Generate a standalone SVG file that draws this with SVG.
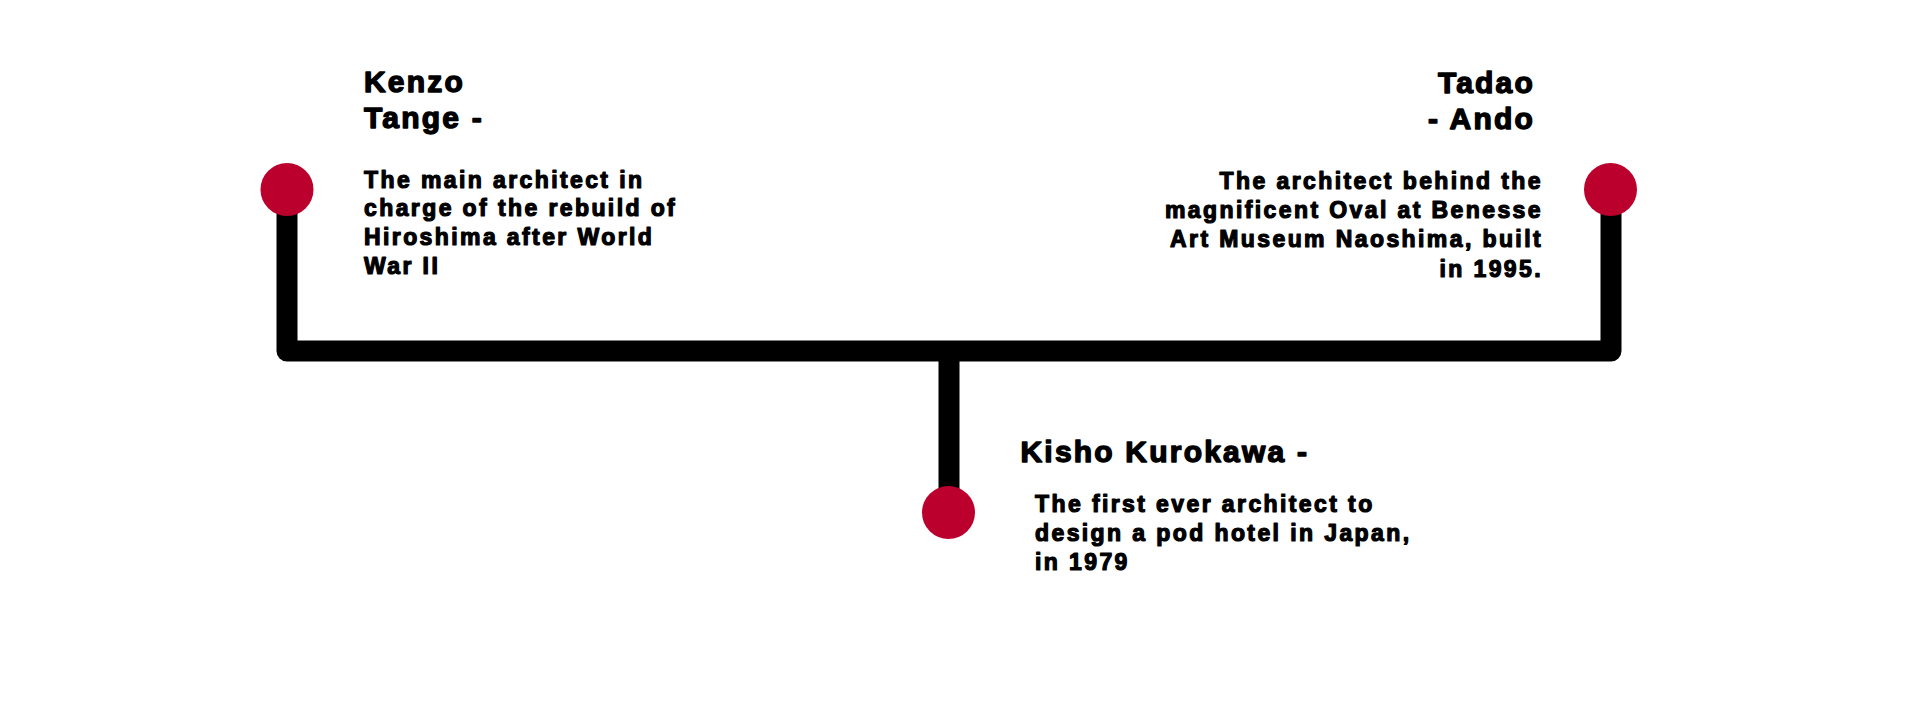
<svg xmlns="http://www.w3.org/2000/svg" width="1920" height="720" viewBox="0 0 1920 720">
  <style>
    text { font-family: "Liberation Sans", Arial, sans-serif; font-weight: bold; fill: #000; stroke: #000; stroke-linejoin: round; }
    .title { font-size: 30px; letter-spacing: 2.2px; stroke-width: 1.4px; }
    .desc { font-size: 23px; letter-spacing: 2.4px; stroke-width: 1.2px; }
    .end { text-anchor: end; }
    .dot { fill: #BC002D; }
    .line { fill: none; stroke: #000; stroke-width: 21; stroke-linejoin: round; stroke-linecap: butt; }
  </style>
  <rect width="1920" height="720" fill="#fff"/>
  <g id="connectors">
    <path class="line" d="M287 189 V351 H1611 V189"/>
    <path class="line" d="M949 351 V512"/>
  </g>
  <g id="kenzo-tange">
    <circle class="dot" cx="287" cy="189.5" r="26.5"/>
    <text class="title" x="364" y="92">Kenzo</text>
    <text class="title" x="364" y="127.5">Tange -</text>
    <text class="desc" x="364" y="187.5">The main architect in</text>
    <text class="desc" x="364" y="216">charge of the rebuild of</text>
    <text class="desc" x="364" y="244.5">Hiroshima after World</text>
    <text class="desc" x="364" y="273.5">War II</text>
  </g>
  <g id="tadao-ando">
    <circle class="dot" cx="1610.5" cy="189.5" r="26.5"/>
    <text class="title end" x="1535" y="92.5">Tadao</text>
    <text class="title end" x="1535" y="128.5">- Ando</text>
    <text class="desc end" x="1543" y="189">The architect behind the</text>
    <text class="desc end" x="1543" y="218.3">magnificent Oval at Benesse</text>
    <text class="desc end" x="1543" y="247.3">Art Museum Naoshima, built</text>
    <text class="desc end" x="1543" y="276.7">in 1995.</text>
  </g>
  <g id="kisho-kurokawa">
    <circle class="dot" cx="948.5" cy="512.5" r="26.5"/>
    <text class="title" x="1020.5" y="461.7">Kisho Kurokawa -</text>
    <text class="desc" x="1035" y="511.7">The first ever architect to</text>
    <text class="desc" x="1035" y="541.2">design a pod hotel in Japan,</text>
    <text class="desc" x="1035" y="570.2">in 1979</text>
  </g>
</svg>
